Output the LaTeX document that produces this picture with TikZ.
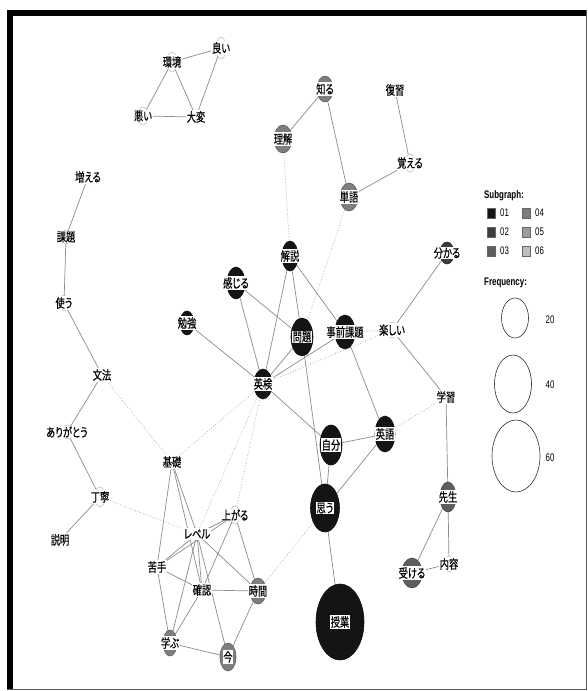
\documentclass[tikz,border=0pt]{standalone}
\usepackage{fontspec}
\newfontfamily\cjk[FakeStretch=0.74,FakeBold=0.4,RawFeature=+palt]{Noto Sans CJK JP}
\newfontfamily\lgd[FakeStretch=0.72]{Liberation Sans}
\usetikzlibrary{shapes.geometric,backgrounds}

% subgraph palette
\definecolor{sgA}{HTML}{141414}
\definecolor{sgB}{HTML}{3C3C3C}
\definecolor{sgC}{HTML}{5E5E5E}
\definecolor{sgD}{HTML}{7E7E7E}
\definecolor{sgE}{HTML}{9C9C9C}
\definecolor{sgF}{HTML}{BEBEBE}
\definecolor{edgegray}{HTML}{8C8C8C}
\definecolor{dotgray}{HTML}{A0A0A0}

% word node: name, position, text, width, height, colour
\newcommand\wordnode[6]{%
  \node[nd={#4}{#5}{#6}] (#1) at #2 {};
  \node[lab] (#1-t) at (#1.center) {#3};}

\begin{document}
\begin{tikzpicture}[x=1pt,y=-1pt,
  nd/.style n args={3}{ellipse, inner sep=0pt, minimum width=#1pt,
    minimum height=#2pt, fill=#3, draw=#3!75!black, line width=0.6pt},
  lab/.style={fill=white, inner sep=0.8pt,
    font=\cjk\fontsize{12.5}{12.5}\selectfont},
  co/.style={draw=edgegray, line width=0.7pt},
  weak/.style={draw=dotgray, line width=0.7pt, dotted},
  lgdtxt/.style={font=\lgd\fontsize{11}{11}\selectfont, inner sep=0pt},
  lgdhead/.style={font=\lgd\bfseries\fontsize{11}{11}\selectfont, inner sep=0pt},
  swatch/.style={draw=black!60, line width=0.4pt}
]
\useasboundingbox (0,0) rectangle (588,691);

% ---- word nodes ----
\wordnode{kankyo}{(172,62)}{環境}{10}{20}{white}
\wordnode{yoi}{(221,48)}{良い}{10}{22}{white}
\wordnode{warui}{(143,116)}{悪い}{10}{18}{white}
\wordnode{taihen}{(196,117)}{大変}{8}{14}{white}
\wordnode{rikai}{(283,139)}{理解}{18}{28}{sgD}
\wordnode{shiru}{(325,89)}{知る}{16}{26}{sgD}
\wordnode{fukushu}{(395,90)}{復習}{8}{14}{white}
\wordnode{oboeru}{(410,163)}{覚える}{10}{18}{white}
\wordnode{tango}{(349,197)}{単語}{18}{28}{sgD}
\wordnode{fueru}{(88,177)}{増える}{8}{14}{white}
\wordnode{kadai}{(66,237)}{課題}{8}{14}{white}
\wordnode{tsukau}{(64,303)}{使う}{8}{16}{white}
\wordnode{bunpo}{(102,375)}{文法}{8}{12}{white}
\wordnode{arigato}{(67,432)}{ありがとう}{8}{14}{white}
\wordnode{teinei}{(100,497)}{丁寧}{10}{20}{white}
\wordnode{setsumei}{(60,540)}{説明}{8}{14}{white}
\wordnode{benkyo}{(187,323)}{勉強}{14}{24}{sgA}
\wordnode{kanjiru}{(236,283)}{感じる}{18}{32}{sgA}
\wordnode{kaisetsu}{(290,256)}{解説}{16}{30}{sgA}
\wordnode{mondai}{(302,337)}{問題}{22}{38}{sgA}
\wordnode{jizen}{(345,332)}{事前課題}{20}{34}{sgA}
\wordnode{tanoshii}{(392,330)}{楽しい}{10}{16}{white}
\wordnode{wakaru}{(447,253)}{分かる}{14}{22}{sgB}
\wordnode{gakushu}{(446,397)}{学習}{8}{12}{white}
\wordnode{eiken}{(263,384)}{英検}{18}{30}{sgA}
\wordnode{eigo}{(385,434)}{英語}{20}{36}{sgA}
\wordnode{jibun}{(331,445)}{自分}{22}{40}{sgA}
\wordnode{omou}{(325,508)}{思う}{29}{48}{sgA}
\wordnode{jugyo}{(340,622)}{授業}{48}{76}{sgA}
\wordnode{sensei}{(448,497)}{先生}{16}{30}{sgC}
\wordnode{ukeru}{(412,573)}{受ける}{20}{30}{sgC}
\wordnode{naiyo}{(449,564)}{内容}{8}{16}{white}
\wordnode{kiso}{(172,462)}{基礎}{8}{14}{white}
\wordnode{level}{(197,534)}{レベル}{8}{12}{white}
\wordnode{agaru}{(235,515)}{上がる}{10}{18}{white}
\wordnode{nigate}{(157,567)}{苦手}{8}{12}{white}
\wordnode{kakunin}{(202,590)}{確認}{8}{12}{white}
\wordnode{jikan}{(258,591)}{時間}{16}{26}{sgD}
\wordnode{manabu}{(170,643)}{学ぶ}{14}{26}{sgD}
\wordnode{ima}{(228,657)}{今}{16}{28}{sgD}

% ---- connectors, behind the nodes ----
\begin{scope}[on background layer]
  \fill[white] (0,0) rectangle (588,691);
  % strong co-occurrences
  \foreach \a/\b in {kankyo/yoi, kankyo/warui, kankyo/taihen, yoi/taihen,
      warui/taihen, rikai/shiru, shiru/tango, fukushu/oboeru, oboeru/tango,
      fueru/kadai, kadai/tsukau, tsukau/bunpo, bunpo/arigato,
      arigato/teinei, teinei/setsumei,
      benkyo/eiken, kanjiru/eiken, kanjiru/mondai, kaisetsu/eiken,
      kaisetsu/mondai, kaisetsu/jizen, mondai/eiken, jizen/eiken,
      jizen/eigo, mondai/omou, eiken/jibun, jibun/eigo, jibun/omou,
      eigo/omou, omou/jugyo,
      wakaru/tanoshii, tanoshii/gakushu, gakushu/sensei, sensei/ukeru,
      sensei/naiyo, ukeru/naiyo,
      kiso/nigate, kiso/level, kiso/kakunin, nigate/level, nigate/agaru,
      level/agaru, level/kakunin, level/jikan, level/ima, level/manabu,
      agaru/kakunin, agaru/jikan, nigate/kakunin, nigate/manabu,
      kakunin/jikan, kakunin/manabu, manabu/ima, jikan/ima}
    \draw[co] (\a.center) -- (\b.center);
  % links between subgraphs
  \foreach \a/\b in {rikai/kaisetsu, tango/mondai, jizen/tanoshii,
      eiken/tanoshii, eigo/gakushu, omou/jikan, bunpo/kiso, teinei/level,
      eiken/kiso, eiken/level, eiken/agaru}
    \draw[weak] (\a.center) -- (\b.center);
\end{scope}

% ---- legend ----
\node[lgdhead, anchor=west] (sgtitle) at (484,196) {Subgraph:};
\foreach \c/\t/\x/\y in {sgA/01/487/213, sgB/02/487/232, sgC/03/487/251,
    sgD/04/522/213, sgE/05/522/232, sgF/06/522/251}{
  \fill[\c, swatch] (\x,\y-5) rectangle (\x+8,\y+5);
  \node[lgdtxt, anchor=west] at (\x+13,\y) {\t};
}
\node[lgdhead, anchor=west] (frtitle) at (484,283) {Frequency:};
\node[ellipse, draw=black!80, line width=0.6pt, minimum width=27pt,
  minimum height=40pt, inner sep=0pt] (f20) at (515,318) {};
\node[ellipse, draw=black!80, line width=0.6pt, minimum width=37pt,
  minimum height=58pt, inner sep=0pt] (f40) at (513,384) {};
\node[ellipse, draw=black!80, line width=0.6pt, minimum width=48pt,
  minimum height=72pt, inner sep=0pt] (f60) at (516,456) {};
\node[lgdtxt] at (550,320) {20};
\node[lgdtxt] at (550,385) {40};
\node[lgdtxt] at (550,458) {60};

% ---- frame ----
\fill[black] (7,10) rectangle (13,690);
\fill[black] (7,10) rectangle (587,16);
\draw[black!65, line width=1.5pt] (586.3,10) -- (586.3,689.3) -- (7,689.3);
\end{tikzpicture}
\end{document}
